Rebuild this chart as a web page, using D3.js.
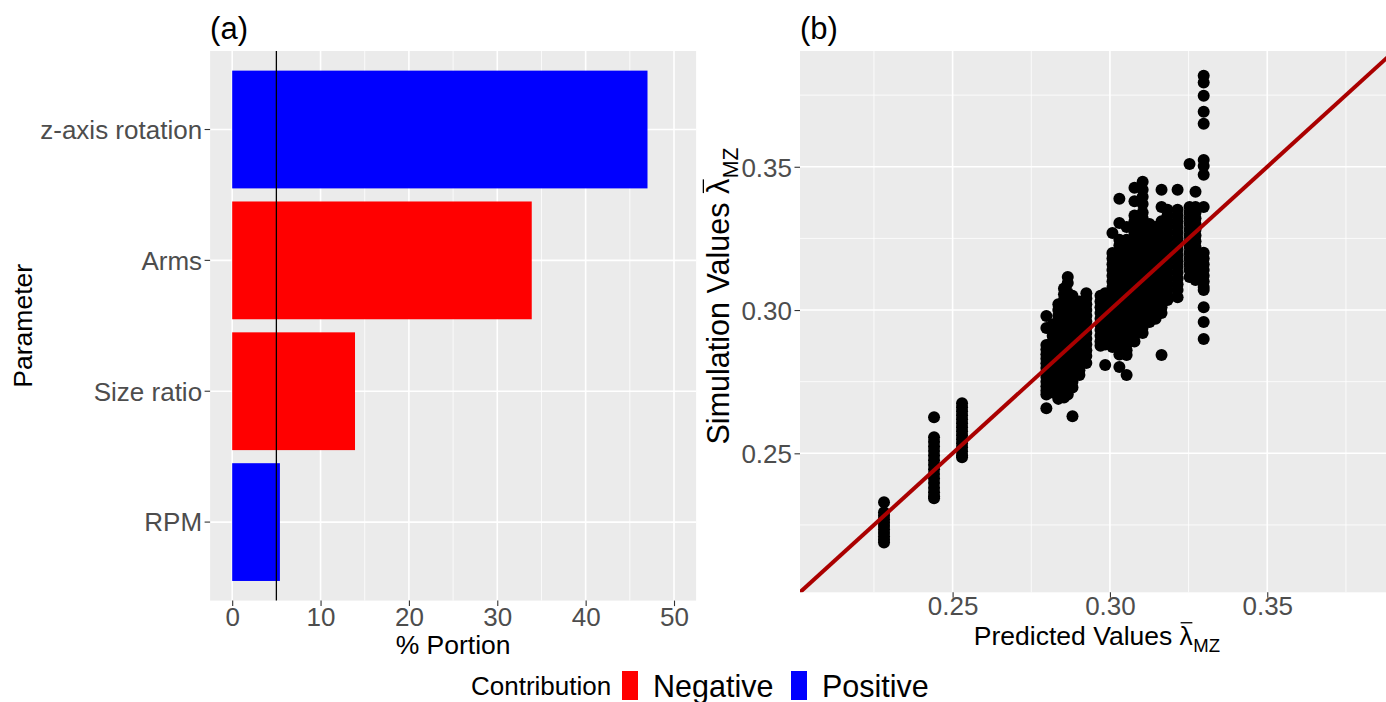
<!DOCTYPE html>
<html><head><meta charset="utf-8">
<script src="https://cdn.jsdelivr.net/npm/d3@7"></script>
<style>
body{margin:0;background:#fff;}
text{font-family:"Liberation Sans", Arial, sans-serif; white-space:pre;}
</style>
</head><body>
<svg id="chart" width="1386" height="702"></svg>
<script>
// ---------------- data ----------------
const parameters = ["z-axis rotation", "Arms", "Size ratio", "RPM"];
const portions = [47.0, 33.9, 13.9, 5.4];
const contributions = ["Positive", "Negative", "Negative", "Positive"];
const thresholdPortion = 5;
const portionTicks = [0, 10, 20, 30, 40, 50];
const portionMinor = [5, 15, 25, 35, 45];
const lambdaTicks = [0.25, 0.30, 0.35];
const lambdaMinor = [0.225, 0.275, 0.325, 0.375];
const contributionLevels = ["Negative", "Positive"];
const contributionColors = ["#FF0000", "#0000FF"];

// predicted value of each column of points, and the simulated values in it
const predictedColumns = [0.2282, 0.2441, 0.2530, 0.2798, 0.2818, 0.2836, 0.2854, 0.2866, 0.2881,
  0.2903, 0.2925, 0.2970, 0.2985, 0.3008, 0.3030, 0.3053, 0.3078, 0.3104, 0.3126, 0.3145,
  0.3164, 0.3183, 0.3215, 0.3253, 0.3272, 0.3298];
const simulatedColumns = [
  [0.2329, 0.2294, 0.2282, 0.2270, 0.2258, 0.2246, 0.2234, 0.2222, 0.2210, 0.2198, 0.2189],
  [0.2626, 0.2556, 0.2540, 0.2524, 0.2508, 0.2492, 0.2476, 0.2460, 0.2444, 0.2428, 0.2412, 0.2396, 0.2380, 0.2364, 0.2350, 0.2343],
  [0.2675, 0.2661, 0.2647, 0.2633, 0.2619, 0.2605, 0.2591, 0.2577, 0.2563, 0.2549, 0.2535, 0.2521, 0.2507, 0.2493, 0.2486],
  [0.2979, 0.2937, 0.2878, 0.2862, 0.2846, 0.2830, 0.2814, 0.2798, 0.2782, 0.2766, 0.2750, 0.2734, 0.2718, 0.2705, 0.2657],
  [0.2950, 0.2930, 0.2910, 0.2890, 0.2870, 0.2850, 0.2830, 0.2810, 0.2790, 0.2770, 0.2750, 0.2730, 0.2712],
  [0.3020, 0.3000, 0.2980, 0.2960, 0.2940, 0.2920, 0.2900, 0.2880, 0.2860, 0.2840, 0.2820, 0.2800, 0.2780, 0.2760, 0.2740, 0.2720, 0.2700, 0.2690],
  [0.3075, 0.3055, 0.3035, 0.3015, 0.2995, 0.2975, 0.2955, 0.2935, 0.2915, 0.2895, 0.2875, 0.2855, 0.2835, 0.2815, 0.2795, 0.2775, 0.2755, 0.2735, 0.2715, 0.2695],
  [0.3115, 0.3094, 0.3060, 0.3040, 0.3020, 0.3000, 0.2980, 0.2960, 0.2940, 0.2920, 0.2900, 0.2880, 0.2860, 0.2840, 0.2820, 0.2800, 0.2780, 0.2760, 0.2740, 0.2720, 0.2705],
  [0.3050, 0.3030, 0.3010, 0.2990, 0.2970, 0.2950, 0.2930, 0.2910, 0.2890, 0.2870, 0.2850, 0.2830, 0.2810, 0.2790, 0.2770, 0.2750, 0.2730, 0.2629],
  [0.3030, 0.3010, 0.2990, 0.2970, 0.2950, 0.2930, 0.2910, 0.2890, 0.2870, 0.2850, 0.2830, 0.2810, 0.2790, 0.2773],
  [0.3059, 0.3040, 0.3020, 0.3000, 0.2980, 0.2960, 0.2940, 0.2920, 0.2900, 0.2880, 0.2860, 0.2840, 0.2815],
  [0.3050, 0.3030, 0.3010, 0.2990, 0.2970, 0.2950, 0.2930, 0.2910, 0.2890, 0.2875],
  [0.3059, 0.3040, 0.3020, 0.3000, 0.2980, 0.2960, 0.2940, 0.2920, 0.2900, 0.2880, 0.2808],
  [0.3269, 0.3199, 0.3180, 0.3160, 0.3140, 0.3120, 0.3100, 0.3080, 0.3060, 0.3040, 0.3020, 0.3000, 0.2980, 0.2960, 0.2940, 0.2920, 0.2900, 0.2880, 0.2871],
  [0.3388, 0.3304, 0.3245, 0.3225, 0.3205, 0.3185, 0.3165, 0.3145, 0.3125, 0.3105, 0.3085, 0.3065, 0.3045, 0.3025, 0.3005, 0.2985, 0.2965, 0.2945, 0.2925, 0.2905, 0.2885, 0.2865, 0.2845, 0.2801],
  [0.3290, 0.3245, 0.3220, 0.3200, 0.3180, 0.3160, 0.3140, 0.3120, 0.3100, 0.3080, 0.3060, 0.3040, 0.3020, 0.3000, 0.2980, 0.2960, 0.2940, 0.2920, 0.2900, 0.2880, 0.2860, 0.2843, 0.2773],
  [0.3427, 0.3380, 0.3330, 0.3310, 0.3290, 0.3270, 0.3250, 0.3230, 0.3210, 0.3190, 0.3170, 0.3150, 0.3130, 0.3110, 0.3090, 0.3070, 0.3050, 0.3030, 0.3010, 0.2990, 0.2970, 0.2950, 0.2930, 0.2910, 0.2890],
  [0.3448, 0.3420, 0.3395, 0.3370, 0.3340, 0.3320, 0.3300, 0.3280, 0.3260, 0.3240, 0.3220, 0.3200, 0.3180, 0.3160, 0.3140, 0.3120, 0.3100, 0.3080, 0.3060, 0.3040, 0.3020, 0.3000, 0.2980, 0.2960, 0.2940, 0.2920],
  [0.3300, 0.3280, 0.3260, 0.3240, 0.3220, 0.3200, 0.3180, 0.3160, 0.3140, 0.3120, 0.3100, 0.3080, 0.3060, 0.3040, 0.3020, 0.3000, 0.2980, 0.2958],
  [0.3290, 0.3270, 0.3250, 0.3230, 0.3210, 0.3190, 0.3170, 0.3150, 0.3130, 0.3110, 0.3090, 0.3070, 0.3050, 0.3030, 0.3010, 0.2990, 0.2970],
  [0.3420, 0.3360, 0.3310, 0.3290, 0.3270, 0.3250, 0.3230, 0.3210, 0.3190, 0.3170, 0.3150, 0.3130, 0.3110, 0.3090, 0.3070, 0.3050, 0.3030, 0.3010, 0.2990, 0.2843],
  [0.3350, 0.3330, 0.3310, 0.3290, 0.3270, 0.3250, 0.3230, 0.3210, 0.3190, 0.3170, 0.3150, 0.3130, 0.3110, 0.3090, 0.3070, 0.3050, 0.3035],
  [0.3420, 0.3350, 0.3330, 0.3310, 0.3290, 0.3270, 0.3250, 0.3230, 0.3210, 0.3190, 0.3170, 0.3150, 0.3130, 0.3110, 0.3090, 0.3070, 0.3045],
  [0.3510, 0.3360, 0.3340, 0.3320, 0.3300, 0.3280, 0.3260, 0.3240, 0.3220, 0.3200, 0.3180, 0.3160, 0.3140, 0.3115],
  [0.3413, 0.3360, 0.3340, 0.3320, 0.3300, 0.3280, 0.3260, 0.3240, 0.3220, 0.3200, 0.3180, 0.3160, 0.3140, 0.3120, 0.3105],
  [0.3818, 0.3794, 0.3748, 0.3692, 0.3650, 0.3524, 0.3503, 0.3472, 0.3360, 0.3200, 0.3180, 0.3160, 0.3140, 0.3120, 0.3100, 0.3080, 0.3070, 0.3010, 0.2958, 0.2899]
];

// ---------------- drawing ----------------
const svg = d3.select("#chart");
const TICK_FONT = 26, TITLE_FONT = 26.5, YTITLE_FONT = 30.5;
const GRID_BG = "#EBEBEB";
const colorScale = d3.scaleOrdinal().domain(contributionLevels).range(contributionColors);

function styleAxis(g) {
  g.select(".domain").remove();
  g.selectAll(".tick line").attr("stroke", "#333333").attr("stroke-width", 1.1);
  g.selectAll(".tick text").attr("font-size", TICK_FONT).attr("fill", "#4D4D4D")
    .attr("font-family", "Liberation Sans, Arial, sans-serif");
}

// ===== Panel (a) =====
const A = {l: 210.1, r: 696.1, t: 51, b: 600.6};
const xA = d3.scaleLinear().domain([-2.5, 52.5]).range([A.l, A.r]);
const yA = d3.scaleBand().domain(parameters).range([A.t, A.b]).paddingInner(0.1).paddingOuter(0.15);
const gA = svg.append("g");
gA.append("rect").attr("x", A.l).attr("y", A.t).attr("width", A.r - A.l).attr("height", A.b - A.t).attr("fill", GRID_BG);
gA.selectAll("line.minx").data(portionMinor).join("line").attr("class", "minx")
  .attr("x1", d => xA(d)).attr("x2", d => xA(d)).attr("y1", A.t).attr("y2", A.b)
  .attr("stroke", "#fff").attr("stroke-width", 0.8);
gA.selectAll("line.majx").data(portionTicks).join("line").attr("class", "majx")
  .attr("x1", d => xA(d)).attr("x2", d => xA(d)).attr("y1", A.t).attr("y2", A.b)
  .attr("stroke", "#fff").attr("stroke-width", 1.6);
gA.selectAll("line.majy").data(parameters).join("line").attr("class", "majy")
  .attr("x1", A.l).attr("x2", A.r).attr("y1", d => yA(d) + yA.bandwidth() / 2).attr("y2", d => yA(d) + yA.bandwidth() / 2)
  .attr("stroke", "#fff").attr("stroke-width", 1.6);
gA.selectAll("rect.bar").data(parameters).join("rect").attr("class", "bar")
  .attr("x", xA(0)).attr("y", d => yA(d))
  .attr("width", (d, i) => xA(portions[i]) - xA(0)).attr("height", yA.bandwidth())
  .attr("fill", (d, i) => colorScale(contributions[i]));
gA.append("line").attr("x1", xA(thresholdPortion)).attr("x2", xA(thresholdPortion))
  .attr("y1", A.t).attr("y2", A.b).attr("stroke", "#000").attr("stroke-width", 1.3);

const axA_x = gA.append("g").attr("transform", `translate(0,${A.b})`)
  .call(d3.axisBottom(xA).tickValues(portionTicks).tickFormat(d3.format("d")).tickSize(5.5));
styleAxis(axA_x);
axA_x.selectAll(".tick text").attr("y", 25).attr("dy", null);
const axA_y = gA.append("g").attr("transform", `translate(${A.l},0)`)
  .call(d3.axisLeft(yA).tickSize(5.5));
styleAxis(axA_y);
axA_y.selectAll(".tick text").attr("x", -8).attr("dy", "0.36em");

gA.append("text").attr("x", (A.l + A.r) / 2).attr("y", 654).attr("text-anchor", "middle")
  .attr("font-size", TITLE_FONT).attr("fill", "#000").text("% Portion");
gA.append("text").attr("transform", `translate(32,${(A.t + A.b) / 2}) rotate(-90)`).attr("text-anchor", "middle")
  .attr("font-size", TITLE_FONT).attr("fill", "#000").text("Parameter");
gA.append("text").attr("x", A.l).attr("y", 39).attr("font-size", 31).attr("fill", "#000").text("(a)");

// ===== Panel (b) =====
const B = {l: 800, r: 1388.4, t: 51, b: 592.3};
const xB = d3.scaleLinear().domain([0.2015, 0.3885]).range([B.l, B.r]);
const yB = d3.scaleLinear().domain([0.2015, 0.3904]).range([B.b, B.t]);
const gB = svg.append("g");
svg.append("defs").append("clipPath").attr("id", "clipB").append("rect")
  .attr("x", B.l).attr("y", B.t).attr("width", B.r - B.l).attr("height", B.b - B.t);
gB.append("rect").attr("x", B.l).attr("y", B.t).attr("width", B.r - B.l).attr("height", B.b - B.t).attr("fill", GRID_BG);
gB.selectAll("line.minx").data(lambdaMinor).join("line").attr("class", "minx")
  .attr("x1", d => xB(d)).attr("x2", d => xB(d)).attr("y1", B.t).attr("y2", B.b)
  .attr("stroke", "#fff").attr("stroke-width", 0.8);
gB.selectAll("line.miny").data(lambdaMinor).join("line").attr("class", "miny")
  .attr("x1", B.l).attr("x2", B.r).attr("y1", d => yB(d)).attr("y2", d => yB(d))
  .attr("stroke", "#fff").attr("stroke-width", 0.8);
gB.selectAll("line.majx").data(lambdaTicks).join("line").attr("class", "majx")
  .attr("x1", d => xB(d)).attr("x2", d => xB(d)).attr("y1", B.t).attr("y2", B.b)
  .attr("stroke", "#fff").attr("stroke-width", 1.6);
gB.selectAll("line.majy").data(lambdaTicks).join("line").attr("class", "majy")
  .attr("x1", B.l).attr("x2", B.r).attr("y1", d => yB(d)).attr("y2", d => yB(d))
  .attr("stroke", "#fff").attr("stroke-width", 1.6);

const points = [];
predictedColumns.forEach((p, i) => simulatedColumns[i].forEach(s => points.push([p, s])));
const gPts = gB.append("g").attr("clip-path", "url(#clipB)");
gPts.selectAll("circle").data(points).join("circle")
  .attr("cx", d => xB(d[0])).attr("cy", d => yB(d[1])).attr("r", 6).attr("fill", "#000");
const diag = [0.19, 0.40];
gPts.append("path").datum(diag)
  .attr("d", d3.line().x(d => xB(d)).y(d => yB(d)))
  .attr("stroke", "#AA0000").attr("stroke-width", 4).attr("fill", "none");

const axB_x = gB.append("g").attr("transform", `translate(0,${B.b})`)
  .call(d3.axisBottom(xB).tickValues(lambdaTicks).tickFormat(d3.format(".2f")).tickSize(5.5));
styleAxis(axB_x);
axB_x.selectAll(".tick text").attr("y", 23).attr("dy", null);
const axB_y = gB.append("g").attr("transform", `translate(${B.l},0)`)
  .call(d3.axisLeft(yB).tickValues(lambdaTicks).tickFormat(d3.format(".2f")).tickSize(5.5));
styleAxis(axB_y);
axB_y.selectAll(".tick text").attr("x", -8).attr("dy", "0.36em");

function lambdaTitle(prefix, size, cx, cy, rot) {
  const g = svg.append("g").attr("transform", `translate(${cx},${cy}) rotate(${rot})`);
  const inner = g.append("g");
  const t1 = inner.append("text").attr("x", 0).attr("y", 0).attr("font-size", size).attr("fill", "#000").text(prefix);
  const w1 = t1.node().getComputedTextLength();
  const t2 = inner.append("text").attr("x", w1).attr("y", 0).attr("font-size", size).attr("fill", "#000").text("λ");
  const w2 = t2.node().getComputedTextLength();
  inner.append("line").attr("x1", w1 + 1).attr("x2", w1 + w2 - 0.5)
    .attr("y1", -size * 0.84).attr("y2", -size * 0.84).attr("stroke", "#000").attr("stroke-width", 1.3);
  const t3 = inner.append("text").attr("x", w1 + w2 + 0.5).attr("y", size * 0.28)
    .attr("font-size", size * 0.7).attr("fill", "#000").text("MZ");
  const w3 = t3.node().getComputedTextLength();
  inner.attr("transform", `translate(${-(w1 + w2 + 0.5 + w3) / 2},0)`);
}
lambdaTitle("Predicted Values ", TITLE_FONT, (B.l + 1386) / 2 + 4, 645, 0);
lambdaTitle("Simulation Values ", YTITLE_FONT, 729, 296, -90);
gB.append("text").attr("x", B.l).attr("y", 39).attr("font-size", 31).attr("fill", "#000").text("(b)");

// ===== Legend =====
const gL = svg.append("g");
gL.append("text").attr("x", 471).attr("y", 695).attr("font-size", 26).attr("fill", "#000").text("Contribution");
const legendX = [622, 791];
const legendTextX = [653, 822];
contributionLevels.forEach((lev, i) => {
  gL.append("rect").attr("x", legendX[i]).attr("y", 671).attr("width", 16).attr("height", 29).attr("fill", colorScale(lev));
  gL.append("text").attr("x", legendTextX[i]).attr("y", 697).attr("font-size", 30.5).attr("fill", "#000").text(lev);
});
</script>
</body></html>
